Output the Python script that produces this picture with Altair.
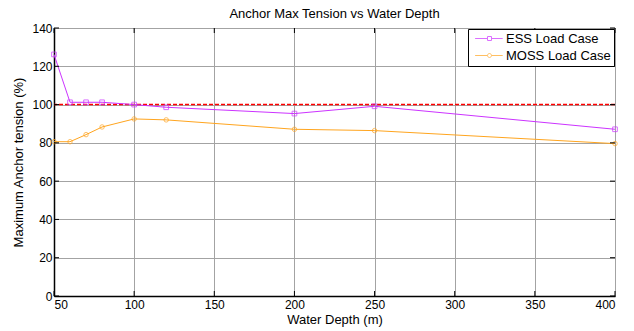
import altair as alt
import pandas as pd

# Water depth (m) for each analysed case
depth = [50, 60, 70, 80, 100, 120, 200, 250, 400]
# Maximum anchor tension, % of reference
ess_tension = [126.2, 101.2, 101.2, 101.2, 100.0, 98.6, 95.3, 99.1, 87.1]
moss_tension = [80.6, 80.6, 84.3, 88.3, 92.5, 92.0, 87.1, 86.4, 79.6]

series_names = ["ESS Load Case", "MOSS Load Case"]
series_colors = ["#cc33ff", "#ffa51f"]
limit_value = 100

x_ticks = [50, 100, 150, 200, 250, 300, 350, 400]
y_ticks = [0, 20, 40, 60, 80, 100, 120, 140]

W, H = 561, 268
FONT = "Liberation Sans"

df = pd.concat([
    pd.DataFrame({"depth": depth, "tension": ess_tension, "case": series_names[0]}),
    pd.DataFrame({"depth": depth, "tension": moss_tension, "case": series_names[1]}),
])

xs = alt.Scale(domain=[50, 400], nice=False, zero=False, padding=0)
ys = alt.Scale(domain=[0, 140], nice=False, padding=0)
x_axis = alt.Axis(values=x_ticks, title="Water Depth (m)", labelOverlap=False)
y_axis = alt.Axis(values=y_ticks, title="Maximum Anchor tension (%)", labelOverlap=False)
color_scale = alt.Scale(domain=series_names, range=series_colors)

base = alt.Chart(df)

lines = base.mark_line(strokeWidth=1).encode(
    x=alt.X("depth:Q", scale=xs, axis=x_axis),
    y=alt.Y("tension:Q", scale=ys, axis=y_axis),
    color=alt.Color("case:N", scale=color_scale, title=None),
)

ess_pts = base.transform_filter(alt.datum.case == series_names[0]).mark_point(
    filled=False, strokeWidth=1, shape="square", size=22, color=series_colors[0]
).encode(x=alt.X("depth:Q", scale=xs, axis=x_axis), y=alt.Y("tension:Q", scale=ys, axis=y_axis))

moss_pts = base.transform_filter(alt.datum.case == series_names[1]).mark_point(
    filled=False, strokeWidth=1, shape="circle", size=20, color=series_colors[1]
).encode(x=alt.X("depth:Q", scale=xs, axis=x_axis), y=alt.Y("tension:Q", scale=ys, axis=y_axis))

# Legend glyphs: a short line with the series marker in its middle
# (unit = 4 px for symbolSize 64; the line runs to the right of the symbol slot)
glyph_square = "M-0.6,0H2.5M3.5,0H6.3M2.5,-0.5H3.5V0.5H2.5Z"
glyph_circle = "M-0.6,0H2.5M3.5,0H6.3M2.5,0A0.5,0.5 0 1,0 3.5,0A0.5,0.5 0 1,0 2.5,0"
legend_layer = base.transform_filter("false").mark_point(filled=False).encode(
    x=alt.X("depth:Q", scale=xs, axis=x_axis), y=alt.Y("tension:Q", scale=ys, axis=y_axis),
    color=alt.Color("case:N", scale=color_scale, title=None),
    shape=alt.Shape("case:N", scale=alt.Scale(domain=series_names, range=[glyph_square, glyph_circle]),
                    title=None),
)

limit = alt.Chart(pd.DataFrame({"v": [limit_value]})).mark_rule(
    color="#ff0000", strokeWidth=1.5, strokeDash=[4, 2]
).encode(y=alt.Y("v:Q", scale=ys, axis=y_axis))

# Inward tick marks on all four sides of the box
xt = alt.Chart(pd.DataFrame({"t": x_ticks}))
yt = alt.Chart(pd.DataFrame({"t": y_ticks}))
tick_style = dict(color="black", strokeWidth=1)
ticks = [
    xt.mark_rule(**tick_style).encode(x=alt.X("t:Q", scale=xs, axis=x_axis), y=alt.value(H), y2=alt.value(H - 5)),
    xt.mark_rule(**tick_style).encode(x=alt.X("t:Q", scale=xs, axis=x_axis), y=alt.value(0), y2=alt.value(5)),
    yt.mark_rule(**tick_style).encode(y=alt.Y("t:Q", scale=ys, axis=y_axis), x=alt.value(0), x2=alt.value(5)),
    yt.mark_rule(**tick_style).encode(y=alt.Y("t:Q", scale=ys, axis=y_axis), x=alt.value(W), x2=alt.value(W - 5)),
]

chart = alt.layer(limit, lines, ess_pts, moss_pts, legend_layer, *ticks).properties(
    width=W, height=H,
    title=alt.Title("Anchor Max Tension vs Water Depth", fontSize=13, fontWeight="normal",
                    font=FONT, color="black", offset=1),
    autosize=alt.AutoSizeParams(type="none"),
    padding={"left": 54, "top": 28, "right": 19, "bottom": 35},
).configure_view(
    stroke="black", strokeWidth=1
).configure_axis(
    domain=True, domainColor="black", domainWidth=1.5, ticks=False, labelOverlap=False,
    grid=True, gridColor="#a3a3a3", gridWidth=1,
    labelFont=FONT, labelFontSize=12, labelColor="black",
    titleFont=FONT, titleFontSize=13, titleFontWeight="normal", titleColor="black",
).configure_axisX(
    labelPadding=3, titlePadding=3
).configure_axisY(
    labelPadding=2, titlePadding=6
).configure_legend(
    orient="top-right", offset=1,
    strokeColor="black", fillColor="white", padding=3,
    labelFont=FONT, labelFontSize=13, labelColor="black",
    symbolSize=64, symbolStrokeWidth=1, rowPadding=3, labelOffset=22,
)

chart.save("out.html", embed_options={"renderer": "svg", "actions": False})
